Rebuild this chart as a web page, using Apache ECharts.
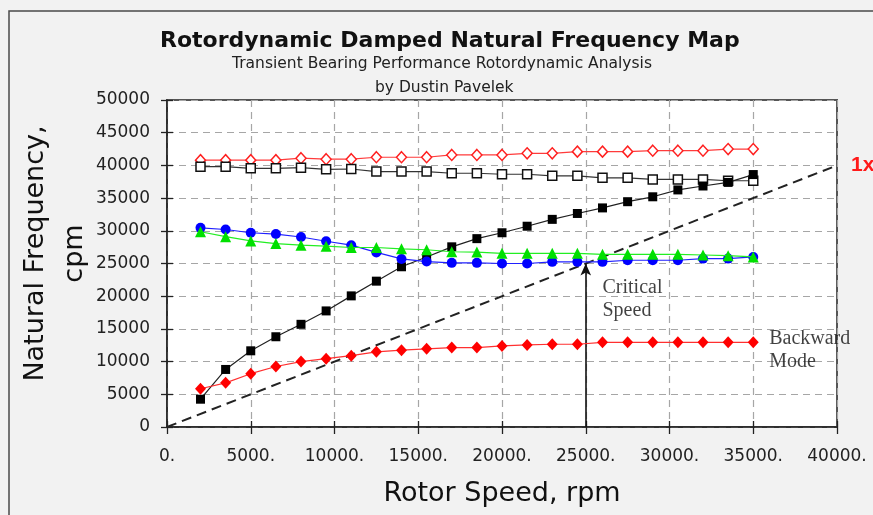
<!DOCTYPE html>
<html>
<head>
<meta charset="utf-8">
<script src="https://cdn.jsdelivr.net/npm/echarts@6/dist/echarts.min.js"></script>
<style>
html,body{margin:0;padding:0;background:#f2f2f2;}
#chart{width:873px;height:515px;}
</style>
</head>
<body>
<div id="chart"></div>
<script>
// ---- data ----
var speeds = [2000,3500,5000,6500,8000,9500,11000,12500,14000,15500,17000,18500,20000,21500,23000,24500,26000,27500,29000,30500,32000,33500,35000];
var fwdHighOpenDiamond = [40800,40800,40800,40800,41100,40950,40950,41250,41250,41250,41600,41600,41600,41850,41850,42100,42100,42100,42250,42250,42250,42500,42500];
var openSquare = [39800,39800,39550,39550,39650,39400,39450,39050,39050,39050,38800,38800,38650,38650,38400,38400,38100,38100,37850,37850,37850,37650,37650];
var filledSquare = [4250,8800,11650,13800,15700,17750,20050,22300,24500,26000,27550,28800,29700,30700,31750,32650,33500,34450,35200,36250,36850,37400,38600];
var blueCircle = [30450,30200,29700,29500,29050,28400,27800,26700,25700,25300,25100,25100,25000,25000,25250,25250,25250,25500,25500,25500,25750,25750,26000];
var greenTriangle = [29850,29100,28450,28050,27800,27650,27450,27450,27250,27100,26800,26750,26550,26550,26550,26550,26400,26400,26400,26400,26300,26200,26000];
var backwardDiamond = [5850,6750,8150,9250,10000,10450,10900,11500,11750,11950,12150,12150,12400,12550,12650,12650,12950,12950,12950,12950,12950,12950,12950];
var oneX = [[0,0],[40000,40000]];
var criticalSpeed = 25000;
var xTickLabels = ['0.','5000.','10000.','15000.','20000.','25000.','30000.','35000.','40000.'];
var yTickLabels = ['0','5000','10000','15000','20000','25000','30000','35000','40000','45000','50000'];
var titleText = 'Rotordynamic Damped Natural Frequency Map';
var subText1 = 'Transient Bearing Performance Rotordynamic Analysis';
var subText2 = 'by Dustin Pavelek';
var criticalLabel = {pos:[26000,23100], text:'Critical\nSpeed'};
var backwardLabel = {pos:[35950,15300], text:'Backward\nMode'};

function pairs(ys){ return speeds.map(function(x,i){ return [x, ys[i]]; }); }

var chart = echarts.init(document.getElementById('chart'), null, {renderer:'canvas'});
var gridDash = {color:'#a6a6a6', width:1.2, type:[7,5]};
var sansFont = 'DejaVu Sans';

function mkSeries(name, ys, color, symbol, size, filled, lineColor, z){
  return {
    name:name, type:'line', data:pairs(ys), symbol:symbol, symbolSize:size,
    showAllSymbol:true, z:z,
    lineStyle:{color:lineColor||color, width:1.2},
    itemStyle:{color: filled ? color : '#ffffff', borderColor:color, borderWidth: filled?0:1.5},
    emphasis:{disabled:true}, animation:false
  };
}

var option = {
  animation:false,
  backgroundColor:'#f2f2f2',
  textStyle:{fontFamily:sansFont},
  graphic:[
    {type:'rect', z:-10, shape:{x:9,y:11,width:900,height:600}, style:{fill:'none', stroke:'#4a4a4a', lineWidth:1.5}},
    {type:'text', left:160, top:30, z:10, style:{text:titleText, font:'bold 22px "DejaVu Sans"', fill:'#111'}},
    {type:'text', left:232, top:56, z:10, style:{text:subText1, font:'15.5px "DejaVu Sans"', fill:'#222'}},
    {type:'text', left:375, top:80, z:10, style:{text:subText2, font:'15.5px "DejaVu Sans"', fill:'#222'}}
  ],
  grid:{left:167, top:100, width:670, height:327, show:true, backgroundColor:'#ffffff', borderColor:'#555', borderWidth:2},
  xAxis:[{
    type:'value', min:0, max:40000, interval:5000,
    name:'Rotor Speed, rpm', nameLocation:'middle', nameGap:53, nameMoveOverlap:false,
    nameTextStyle:{fontSize:27, color:'#111', fontFamily:sansFont},
    axisLine:{show:true, lineStyle:{color:'#222', width:1.5}},
    axisTick:{show:true, length:7, lineStyle:{color:'#222', width:1.3}},
    axisLabel:{fontSize:17, color:'#222', margin:21, fontFamily:sansFont,
      formatter:function(v){ return xTickLabels[Math.round(v/5000)]; }},
    splitLine:{show:true, lineStyle:gridDash}
  },{
    type:'value', min:0, max:40000, interval:5000, position:'bottom',
    axisLine:{show:false}, axisLabel:{show:false}, splitLine:{show:false},
    axisTick:{show:true, inside:true, length:6, lineStyle:{color:'#222', width:1.3}}
  }],
  yAxis:[{
    type:'value', min:0, max:50000, interval:5000,
    name:'Natural Frequency,\ncpm', nameLocation:'middle', nameGap:73, nameRotate:90, nameMoveOverlap:false,
    nameTextStyle:{fontSize:27, color:'#111', lineHeight:39, fontFamily:sansFont, padding:[0,0,0,20]},
    axisLine:{show:true, lineStyle:{color:'#222', width:1.5}},
    axisTick:{show:true, length:6, lineStyle:{color:'#222', width:1.3}},
    axisLabel:{fontSize:17, color:'#222', margin:17, fontFamily:sansFont,
      formatter:function(v){ return yTickLabels[Math.round(v/5000)]; }},
    splitLine:{show:true, lineStyle:gridDash}
  },{
    type:'value', min:0, max:50000, interval:5000, position:'left',
    axisLine:{show:false}, axisLabel:{show:false}, splitLine:{show:false},
    axisTick:{show:true, inside:true, length:6, lineStyle:{color:'#222', width:1.3}}
  }],
  series:[
    {
      name:'1x', type:'line', data:oneX, symbol:'none', z:2, animation:false,
      lineStyle:{color:'#222', width:2, type:[10,6]},
      endLabel:{show:true, formatter:'1x', color:'#ff1a1a', fontSize:21, fontWeight:'bold', fontFamily:'Liberation Sans', distance:14},
      markLine:{
        silent:true, symbol:['none','arrow'], symbolSize:[8,12],
        label:{show:false},
        lineStyle:{color:'#111', width:1.6, type:'solid'},
        data:[[{coord:[criticalSpeed,0]},{coord:[criticalSpeed,criticalSpeed]}]]
      }
    },
    mkSeries('fwdHigh', fwdHighOpenDiamond, '#ff2020', 'diamond', [10,11], false, '#ff3b3b', 3),
    mkSeries('openSq', openSquare, '#111111', 'rect', 9, false, '#333', 3),
    mkSeries('filledSq', filledSquare, '#000000', 'rect', 9, true, '#222', 4),
    mkSeries('blue', blueCircle, '#0000ff', 'circle', 10, true, '#2020ff', 5),
    mkSeries('green', greenTriangle, '#00e000', 'triangle', 11, true, '#22ee22', 6),
    mkSeries('backward', backwardDiamond, '#ff0000', 'diamond', [11,12], true, '#ff3030', 6),
    {
      name:'labels', type:'scatter', symbolSize:0, z:7, animation:false, silent:true,
      data:[criticalLabel.pos, backwardLabel.pos],
      label:{show:true, position:[0,0], align:'left', verticalAlign:'top',
        fontFamily:'Liberation Serif', fontSize:20, lineHeight:23, color:'#111',
        formatter:function(p){ return p.dataIndex===0 ? criticalLabel.text : backwardLabel.text; }}
    }
  ]
};
chart.setOption(option);
</script>
</body>
</html>
